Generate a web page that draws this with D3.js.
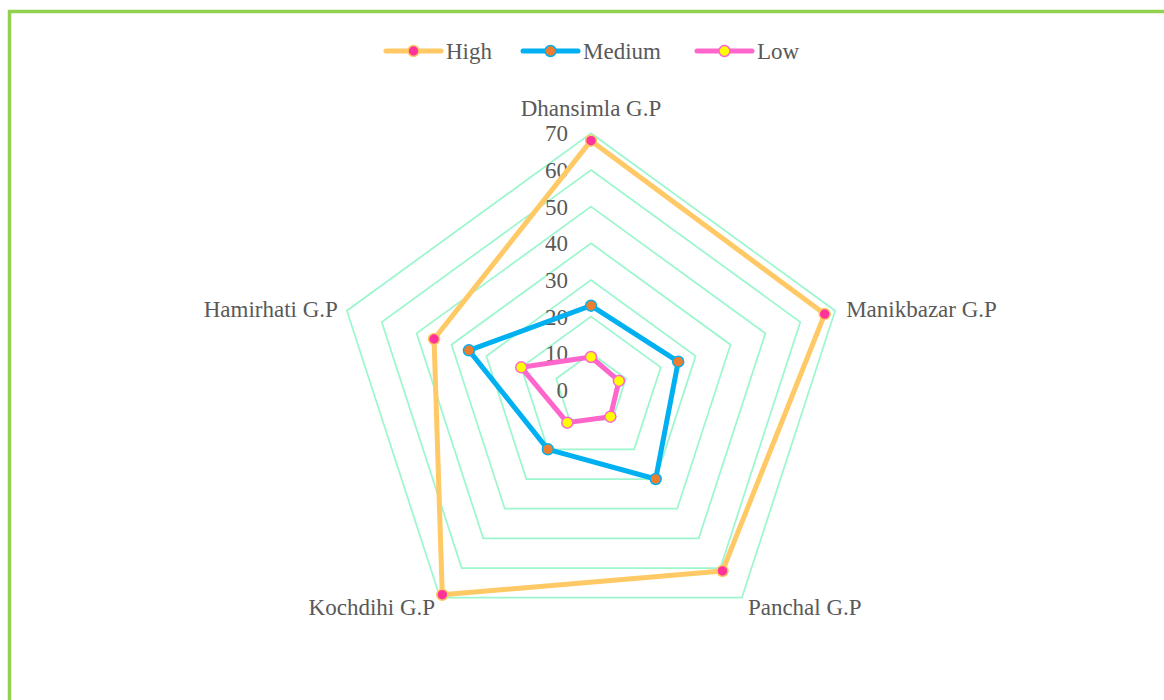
<!DOCTYPE html>
<html>
<head>
<meta charset="utf-8">
<script src="https://cdn.jsdelivr.net/npm/d3@7"></script>
<style>
  body { margin: 0; background: #fff; }
</style>
</head>
<body>
<svg id="chart" width="1164" height="700"></svg>
<script>
// Data
const categories = ["Dhansimla G.P", "Manikbazar G.P", "Panchal G.P", "Kochdihi G.P", "Hamirhati G.P"];
const highValues = [68, 67, 61, 69, 45];
const mediumValues = [23, 25, 30, 20, 35];
const lowValues = [9, 8, 9, 11, 20];
const ticks = [0, 10, 20, 30, 40, 50, 60, 70];

const series = [
  { name: "High", values: highValues, line: "#FFC966", fill: "#FF3399" },
  { name: "Medium", values: mediumValues, line: "#00B0F0", fill: "#ED7D31" },
  { name: "Low", values: lowValues, line: "#FF66CC", fill: "#FFFF00" }
];

const FONT = "Liberation Serif";
const TEXT_COLOR = "#595959";

const svg = d3.select("#chart");
const cx = 591, cy = 390;
const r = d3.scaleLinear().domain([0, 70]).range([0, 256.7]);
const angle = d3.scalePoint().domain(d3.range(categories.length)).range([0, 2 * Math.PI * (categories.length - 1) / categories.length]);

const pt = function (i, v) {
  const a = angle(i);
  return [cx + r(v) * Math.sin(a), cy - r(v) * Math.cos(a)];
};

const styleText = function (sel) {
  return sel.attr("font-family", FONT)
    .attr("font-size", 23)
    .attr("fill", TEXT_COLOR);
};

// outer frame (green border, runs off the right and bottom edges)
svg.append("rect")
  .attr("x", 9.5).attr("y", 11.5)
  .attr("width", 1200).attr("height", 750)
  .attr("fill", "none")
  .attr("stroke", "#92D050")
  .attr("stroke-width", 3.5);

// grid rings
const grid = svg.append("g");
ticks.filter(t => t > 0).forEach(function (t) {
  grid.append("polygon")
    .attr("points", categories.map((c, i) => pt(i, t).join(",")).join(" "))
    .attr("fill", "none")
    .attr("stroke", "#9CF7CE")
    .attr("stroke-width", 1.75);
});

// tick labels along the top spoke
svg.append("g").selectAll("text")
  .data(ticks)
  .enter().append("text")
  .attr("x", cx - 23)
  .attr("y", d => cy - r(d))
  .attr("dy", "0.35em")
  .attr("text-anchor", "end")
  .call(styleText)
  .text(d => d);

// category labels
const labelOffsets = [
  { dx: 0, dy: -25, anchor: "middle" },
  { dx: 11, dy: -2, anchor: "start" },
  { dx: 6, dy: 9, anchor: "start" },
  { dx: -5, dy: 9, anchor: "end" },
  { dx: -9, dy: -2, anchor: "end" }
];
svg.append("g").selectAll("text")
  .data(categories)
  .enter().append("text")
  .attr("x", (d, i) => pt(i, 70)[0] + labelOffsets[i].dx)
  .attr("y", (d, i) => pt(i, 70)[1] + labelOffsets[i].dy)
  .attr("dy", "0.35em")
  .attr("text-anchor", (d, i) => labelOffsets[i].anchor)
  .call(styleText)
  .text(d => d);

// series lines and markers
const line = d3.line().curve(d3.curveLinearClosed);
series.forEach(function (s) {
  const g = svg.append("g");
  const pts = s.values.map((v, i) => pt(i, v));
  g.append("path")
    .attr("d", line(pts))
    .attr("fill", "none")
    .attr("stroke", s.line)
    .attr("stroke-width", 5)
    .attr("stroke-linejoin", "round");
  g.selectAll("circle")
    .data(pts)
    .enter().append("circle")
    .attr("cx", d => d[0])
    .attr("cy", d => d[1])
    .attr("r", 5.5)
    .attr("fill", s.fill)
    .attr("stroke", s.line)
    .attr("stroke-width", 1.5);
});

// legend
const legendX = [386, 523, 697];
const legend = svg.append("g");
series.forEach(function (s, i) {
  const item = legend.append("g").attr("transform", "translate(" + legendX[i] + ",51)");
  item.append("line")
    .attr("x1", 0).attr("x2", 55)
    .attr("stroke", s.line)
    .attr("stroke-width", 5)
    .attr("stroke-linecap", "round");
  item.append("circle")
    .attr("cx", 27.5).attr("r", 5.5)
    .attr("fill", s.fill)
    .attr("stroke", s.line)
    .attr("stroke-width", 1.5);
  item.append("text")
    .attr("x", 60)
    .attr("dy", "0.35em")
    .call(styleText)
    .text(s.name);
});
</script>
</body>
</html>
